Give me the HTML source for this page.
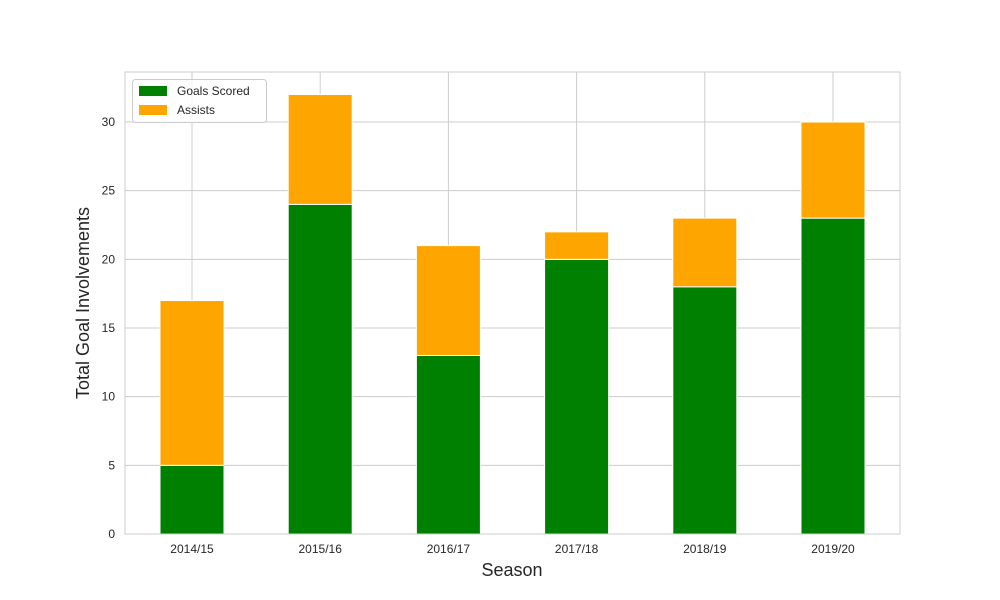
<!DOCTYPE html>
<html><head><meta charset="utf-8"><style>
body{margin:0;background:#fff;}
svg{display:block;font-family:"Liberation Sans","DejaVu Sans",sans-serif;}
</style></head><body>
<svg id="chart" width="1000" height="600">
<rect x="0" y="0" width="1000" height="600" fill="#fff"/>
<g id="grid"></g>
<g id="bars"></g>
<rect x="125" y="72" width="775" height="462" fill="none" stroke="#cccccc" stroke-width="1"/>
<g id="ticks" font-size="12" fill="#262626"></g>
<text x="512" y="576" text-anchor="middle" font-size="18" fill="#262626">Season</text>
<text transform="translate(89,303) rotate(-90)" text-anchor="middle" font-size="18" fill="#262626">Total Goal Involvements</text>
<g>
<rect x="132.5" y="79.5" width="134" height="43" rx="3" fill="#fff" stroke="#cccccc" fill-opacity="0.8"/>
<g>
<rect x="139" y="86" width="28" height="10" fill="#008000"/>
<text x="177" y="95" font-size="12" fill="#262626">Goals Scored</text></g>
<g>
<rect x="139" y="105" width="28" height="10" fill="#FFA500"/>
<text x="177" y="114" font-size="12" fill="#262626">Assists</text></g>
</g>
</svg>
<script>
const categories=["2014/15","2015/16","2016/17","2017/18","2018/19","2019/20"];
const goals=[5,24,13,20,18,23];
const assists=[12,8,8,2,5,7];
const yTicks=[0,5,10,15,20,25,30];
const NS="http://www.w3.org/2000/svg";
const x0=125,x1=900,yb=534,yt=72,ymax=33.64;
const step=128.2,first=192,bw=64;
function xs(i){return first+i*step;}
function ys(v){return yb-(v/ymax)*(yb-yt);}
function mk(tag,attrs,parent){const e=document.createElementNS(NS,tag);for(const k in attrs)e.setAttribute(k,attrs[k]);parent.appendChild(e);return e;}
const grid=document.getElementById('grid'),bars=document.getElementById('bars'),ticks=document.getElementById('ticks');
yTicks.forEach(v=>{
 const l=mk('line',{x1:x0,x2:x1,y1:ys(v),y2:ys(v),stroke:'#cccccc','stroke-width':1},grid);
 
 
 const t=mk('text',{x:115,y:ys(v)+4,'text-anchor':'end'},ticks);t.textContent=v;
 
 
});
categories.forEach((c,i)=>{
 const l=mk('line',{x1:xs(i),x2:xs(i),y1:yt,y2:yb,stroke:'#cccccc','stroke-width':1},grid);
 
 
 const g=mk('rect',{x:xs(i)-bw/2,y:ys(goals[i]),width:bw,height:ys(0)-ys(goals[i]),fill:'#008000',stroke:'#fff','stroke-width':1},bars);
 
 
 const a=mk('rect',{x:xs(i)-bw/2,y:ys(goals[i]+assists[i]),width:bw,height:ys(goals[i])-ys(goals[i]+assists[i]),fill:'#FFA500',stroke:'#fff','stroke-width':1},bars);
 
 
 const t=mk('text',{x:xs(i),y:553,'text-anchor':'middle'},ticks);t.textContent=c;
 
 
});
</script>
</body></html>
